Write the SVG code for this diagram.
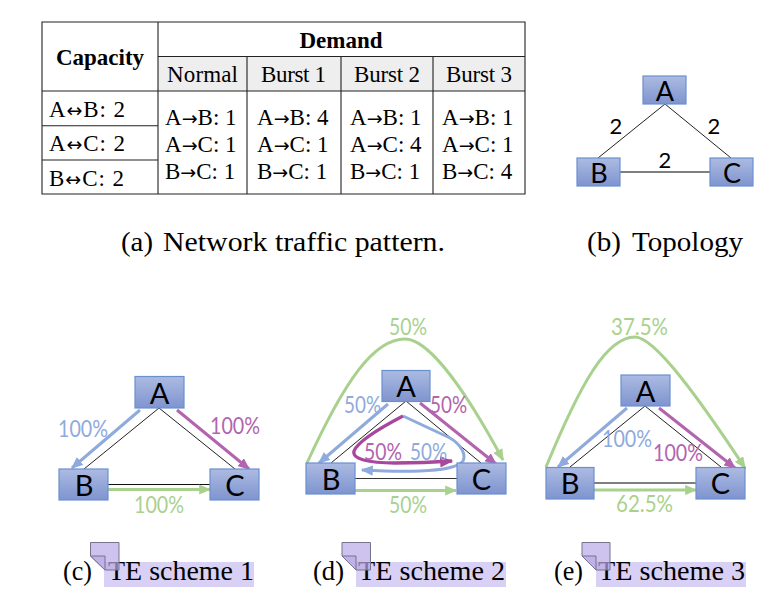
<svg xmlns="http://www.w3.org/2000/svg" width="783" height="612" viewBox="0 0 783 612">
<style>
.t{font-family:"Liberation Serif",serif;font-size:23px;fill:#000}
.ar{font-family:"DejaVu Sans",sans-serif;font-size:19px}
.th{font-family:"Liberation Serif",serif;font-size:23px;font-weight:bold;fill:#000;text-anchor:middle}
.cap{font-family:"Liberation Serif",serif;font-size:28px;fill:#000}
.n{font-family:Lato,"Liberation Sans",sans-serif;font-size:29px;fill:#000;text-anchor:middle}
.m{font-size:27px}
.l{font-family:Lato,"Liberation Sans",sans-serif;font-size:24px;font-weight:400}
.d{font-size:22px;fill:#000;text-anchor:middle}
.box{fill:url(#g);stroke:#6a8fd0;stroke-width:1.2}
.grid{stroke:#222;stroke-width:1.1;fill:none}
.link{stroke:#222;stroke-width:1;fill:none}
.bl{stroke:#8faadc;stroke-width:3;fill:none}
.pu{stroke:#b264ae;stroke-width:3;fill:none}
.pd{stroke:#a8489c;stroke-width:3.300;fill:none}
.gr{stroke:#a9d18e;stroke-width:3;fill:none}
.lb{fill:#8faadc}.lp{fill:#b264ae}.lg{fill:#a9d18e}
.note{fill:#b9a9e8;fill-opacity:.7;stroke:#77738c;stroke-width:1}
.hl{fill:#d9d0f5}
</style>
<defs>
<linearGradient id="g" x1="0" y1="0" x2="0" y2="1"><stop offset="0" stop-color="#acbbe2"/><stop offset="1" stop-color="#7f94cf"/></linearGradient>
<marker id="ab" markerWidth="4" markerHeight="3.400" refX="3.600" refY="1.700" orient="auto"><path d="M0 0L4 1.700L0 3.400z" fill="#8faadc"/></marker>
<marker id="ap" markerWidth="4" markerHeight="3.400" refX="3.600" refY="1.700" orient="auto"><path d="M0 0L4 1.700L0 3.400z" fill="#b264ae"/></marker>
<marker id="apd" markerWidth="4" markerHeight="3.400" refX="3.600" refY="1.700" orient="auto"><path d="M0 0L4 1.700L0 3.400z" fill="#a8489c"/></marker>
<marker id="ag" markerWidth="4" markerHeight="3.400" refX="3.600" refY="1.700" orient="auto"><path d="M0 0L4 1.700L0 3.400z" fill="#a9d18e"/></marker>
</defs>
<g id="table">
<rect x="158" y="56.500" width="367" height="34.500" fill="#eeeeee"/>
<path class="grid" d="M42 22H525V194H42ZM158 22V194M158 56.500H525M42 91H525M42 125.700H158M42 160H158M247 56.500V194M341 56.500V194M433 56.500V194"/>
<text class="th" x="341" y="47.500">Demand</text>
<text class="th" x="100" y="65">Capacity</text>
<text class="t" x="167" y="82" textLength="71">Normal</text>
<text class="t" x="261" y="82" textLength="65">Burst 1</text>
<text class="t" x="354" y="82" textLength="66">Burst 2</text>
<text class="t" x="446" y="82" textLength="66">Burst 3</text>
<text class="t" x="49" y="117" textLength="76">A<tspan class="ar">↔</tspan>B: 2</text>
<text class="t" x="49" y="151" textLength="76">A<tspan class="ar">↔</tspan>C: 2</text>
<text class="t" x="49" y="185.500" textLength="75">B<tspan class="ar">↔</tspan>C: 2</text>
<text class="t" x="165" y="124.500">A<tspan class="ar">→</tspan>B: 1</text><text class="t" x="165" y="151.500">A<tspan class="ar">→</tspan>C: 1</text><text class="t" x="165" y="179">B<tspan class="ar">→</tspan>C: 1</text>
<text class="t" x="257" y="124.500">A<tspan class="ar">→</tspan>B: 4</text><text class="t" x="257" y="151.500">A<tspan class="ar">→</tspan>C: 1</text><text class="t" x="257" y="179">B<tspan class="ar">→</tspan>C: 1</text>
<text class="t" x="350" y="124.500">A<tspan class="ar">→</tspan>B: 1</text><text class="t" x="350" y="151.500">A<tspan class="ar">→</tspan>C: 4</text><text class="t" x="350" y="179">B<tspan class="ar">→</tspan>C: 1</text>
<text class="t" x="442" y="124.500">A<tspan class="ar">→</tspan>B: 1</text><text class="t" x="442" y="151.500">A<tspan class="ar">→</tspan>C: 1</text><text class="t" x="442" y="179">B<tspan class="ar">→</tspan>C: 4</text>
</g>
<g id="connectors">
<path class="link" d="M665 104L598 158M665 104L731 158"/>
<path d="M620 172H710" fill="none" stroke="#555" stroke-width="1.500"/>
<path class="link" d="M159 408L84 469M159 408L235 469"/>
<path d="M108 484.500H210" fill="none" stroke="#111" stroke-width="1"/>
<path class="bl" d="M140 410L72 468" marker-end="url(#ab)"/>
<path class="pu" d="M177 410L249 469" marker-end="url(#ap)"/>
<path class="gr" d="M108 489.500H210" marker-end="url(#ag)"/>
<path class="link" d="M406 401L331 463M406 401L481 463"/>
<path d="M355 478.500H457" fill="none" stroke="#333" stroke-width="1"/>
<path class="gr" d="M307 463C345 380 374 339 405 339C430 339 468 395 503 460" marker-end="url(#ag)"/>
<path class="bl" d="M388 404L319 463" marker-end="url(#ab)"/>
<path class="pu" d="M420 403L496 464" marker-end="url(#ap)"/>
<path class="bl" d="M403 416L450 438C462 445 466 455 463 461C458 468 440 470 420 471C400 472 380 471 362 470" marker-end="url(#ab)"/>
<path class="pd" d="M403 416C380 428 358 441 354 451C352 459 368 463 395 463C420 463 438 462 452 461" marker-end="url(#apd)"/>
<path class="gr" d="M355 490.500H456" marker-end="url(#ag)"/>
<path class="link" d="M645 406L570 467M645 406L721 467"/>
<path d="M594 483H696" fill="none" stroke="#555" stroke-width="1.500"/>
<path class="gr" d="M546 467C580 385 606 337 635 337C655 337 700 400 745 468" marker-end="url(#ag)"/>
<path class="bl" d="M627 408L558 467" marker-end="url(#ab)"/>
<path class="pu" d="M659 408L735 468" marker-end="url(#ap)"/>
<path class="gr" d="M594 490H696" marker-end="url(#ag)"/>
</g>
<g id="b-topology">
<g id="t-a"><rect class="box" x="643" y="76" width="43" height="28"/><text class="n m" x="665" y="100.500">A</text></g>
<g id="t-b"><rect class="box" x="577" y="158" width="43" height="28"/><text class="n m" x="599" y="182.500">B</text></g>
<g id="t-c"><rect class="box" x="710" y="158" width="43" height="28"/><text class="n m" x="732" y="182.500">C</text></g>
<text class="l d" x="616" y="134">2</text><text class="l d" x="714" y="134">2</text><text class="l d" x="665" y="168">2</text>
</g>
<g id="c-scheme">
<g id="c-a"><rect class="box" x="135" y="376.500" width="49" height="31.500"/><text class="n" x="159.500" y="404">A</text></g>
<g id="c-b"><rect class="box" x="59" y="469" width="49" height="31"/><text class="n" x="84" y="496">B</text></g>
<g id="c-c"><rect class="box" x="210" y="469" width="49" height="31"/><text class="n" x="235" y="496">C</text></g>
<text class="l lb" x="58" y="437" textLength="50" lengthAdjust="spacingAndGlyphs">100%</text><text class="l lp" x="210" y="434" textLength="50" lengthAdjust="spacingAndGlyphs">100%</text><text class="l lg" x="134" y="513" textLength="50" lengthAdjust="spacingAndGlyphs">100%</text>
</g>
<g id="d-scheme">
<g id="d-a"><rect class="box" x="382" y="370.500" width="48" height="31"/><text class="n" x="406" y="397">A</text></g>
<g id="d-b"><rect class="box" x="306" y="463" width="49" height="31"/><text class="n" x="331" y="490">B</text></g>
<g id="d-c"><rect class="box" x="457" y="463" width="49" height="31"/><text class="n" x="481.500" y="490">C</text></g>
<text class="l lg" x="389" y="335" textLength="38" lengthAdjust="spacingAndGlyphs">50%</text>
<text class="l lb" x="344" y="412.500" textLength="37" lengthAdjust="spacingAndGlyphs">50%</text>
<text class="l lp" x="430" y="412.500" textLength="37" lengthAdjust="spacingAndGlyphs">50%</text>
<text class="l lp" x="364" y="460" textLength="38" lengthAdjust="spacingAndGlyphs">50%</text>
<text class="l lb" x="410" y="460" textLength="37" lengthAdjust="spacingAndGlyphs">50%</text>
<text class="l lg" x="389" y="513" textLength="38" lengthAdjust="spacingAndGlyphs">50%</text>
</g>
<g id="e-scheme">
<g id="e-a"><rect class="box" x="621" y="375" width="49" height="31"/><text class="n" x="645.500" y="402">A</text></g>
<g id="e-b"><rect class="box" x="546" y="467.500" width="48" height="31.500"/><text class="n" x="570" y="494">B</text></g>
<g id="e-c"><rect class="box" x="696" y="467.500" width="49" height="31.500"/><text class="n" x="720.500" y="494">C</text></g>
<text class="l lg" x="611" y="335" textLength="57" lengthAdjust="spacingAndGlyphs">37.5%</text>
<text class="l lb" x="602" y="447" textLength="50" lengthAdjust="spacingAndGlyphs">100%</text>
<text class="l lp" x="653" y="461" textLength="50" lengthAdjust="spacingAndGlyphs">100%</text>
<text class="l lg" x="616" y="512" textLength="57" lengthAdjust="spacingAndGlyphs">62.5%</text>
</g>
<g id="captions">
<text class="cap" x="121" y="251" textLength="32" lengthAdjust="spacingAndGlyphs">(a)</text><text class="cap" x="163" y="251" textLength="282" lengthAdjust="spacingAndGlyphs">Network traffic pattern.</text>
<text class="cap" x="587" y="251" textLength="34" lengthAdjust="spacingAndGlyphs">(b)</text><text class="cap" x="632" y="251" textLength="111" lengthAdjust="spacingAndGlyphs">Topology</text>
<rect class="hl" x="104" y="562" width="150" height="25"/>
<rect class="hl" x="356" y="562" width="150" height="25"/>
<rect class="hl" x="596" y="562" width="150" height="25"/>
<text class="cap" x="63" y="580" textLength="29" lengthAdjust="spacingAndGlyphs">(c)</text><text class="cap" x="108" y="580" textLength="146" lengthAdjust="spacingAndGlyphs">TE scheme 1</text>
<text class="cap" x="313" y="580" textLength="31" lengthAdjust="spacingAndGlyphs">(d)</text><text class="cap" x="358" y="580" textLength="147" lengthAdjust="spacingAndGlyphs">TE scheme 2</text>
<text class="cap" x="554" y="580" textLength="29" lengthAdjust="spacingAndGlyphs">(e)</text><text class="cap" x="598" y="580" textLength="147" lengthAdjust="spacingAndGlyphs">TE scheme 3</text>
<g id="notes">
<path class="note" d="M90.500 542.500H119V570H105L90.500 556Z"/><path class="note" d="M90.500 556H105V570Z"/>
<path class="note" d="M342 542.500H370.500V570H356L342 556Z"/><path class="note" d="M342 556H356V570Z"/>
<path class="note" d="M582 542.500H610V570H596L582 556Z"/><path class="note" d="M582 556H596V570Z"/>
</g>
</g>
</svg>
